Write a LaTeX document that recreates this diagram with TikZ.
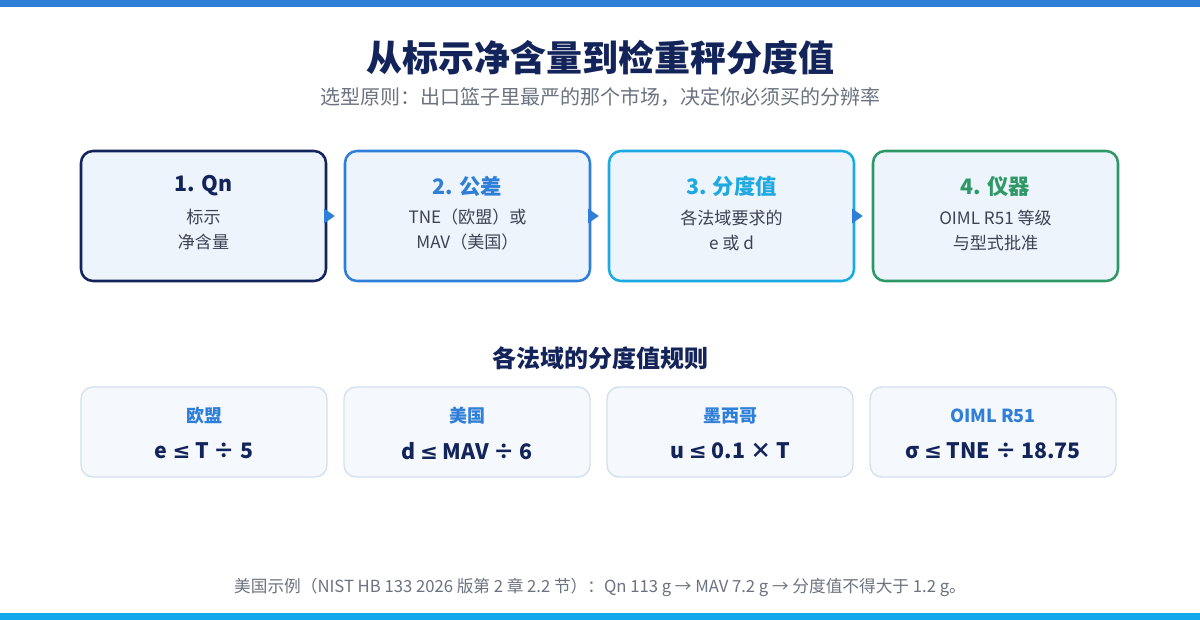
\documentclass[tikz,border=0pt]{standalone}
\usepackage{fontspec}
\setmainfont{Noto Sans CJK SC}
\newfontfamily\symsans{DejaVu Sans}
\newcommand{\leqs}{{\symsans ≤}}
\usetikzlibrary{arrows.meta,positioning}
\definecolor{navy}{HTML}{13245A}
\definecolor{primary}{HTML}{2F7ED8}
\definecolor{sky}{HTML}{1DA9E1}
\definecolor{leaf}{HTML}{2E9966}
\definecolor{paleblue}{HTML}{EEF4FC}
\definecolor{palerule}{HTML}{F5F9FD}
\definecolor{edge}{HTML}{D5E1EC}
\definecolor{muted}{HTML}{6B7280}
\definecolor{ink}{HTML}{3B4252}
\definecolor{barbottom}{HTML}{12A8EA}

\begin{document}
\begin{tikzpicture}[x=0.75pt,y=-0.75pt,
    stage/.style={draw,line width=1.9pt,fill=paleblue,rounded corners=9pt,
      minimum width=183.75pt,minimum height=97.5pt,inner sep=0pt},
    stagetitle/.style={font=\fontsize{16}{19}\selectfont\bfseries},
    stagebody/.style={font=\fontsize{12.8}{18.75}\selectfont,text=ink,align=center},
    rule/.style={draw=edge,line width=1.1pt,fill=palerule,rounded corners=9pt,
      minimum width=184.5pt,minimum height=67.5pt,inner sep=0pt},
    rulelabel/.style={font=\fontsize{13.5}{16}\selectfont\bfseries,text=primary},
    formula/.style={font=\fontsize{16}{19}\selectfont\bfseries,text=navy},
    flow/.style={-{Triangle[length=8pt,width=11pt]},primary,line width=0.8pt,shorten >=6.75pt}]
  \useasboundingbox (0,0) rectangle (1200,620);
  \fill[white] (0,0) rectangle (1200,620);
  \fill[primary] (0,0) rectangle (1200,7);
  \fill[barbottom] (0,613) rectangle (1200,620);

  % title
  \node[font=\fontsize{27}{32}\selectfont\bfseries,text=navy] (title) at (600,58) {从标示净含量到检重秤分度值};
  \node[font=\fontsize{15}{18}\selectfont,text=muted] (subtitle) at (600,97) {选型原则：出口篮子里最严的那个市场，决定你必须买的分辨率};

  % the four steps
  \node[stage,draw=navy] (q) at (203.5,216) {};
  \node[stage,draw=primary] (tol) at (467.5,216) {};
  \node[stage,draw=sky] (div) at (731.5,216) {};
  \node[stage,draw=leaf] (inst) at (995.5,216) {};
  \draw[flow] (q.east) -- (tol.west);
  \draw[flow] (tol.east) -- (div.west);
  \draw[flow] (div.east) -- (inst.west);

  \node[stagetitle,text=navy] (qtitle) at (203.5,186) {1. Qn};
  \node[stagebody] (qbody) at (203.5,230) {标示\\净含量};
  \node[stagetitle,text=primary] (toltitle) at (467.5,186) {2. 公差};
  \node[stagebody] (tolbody) at (467.5,230) {TNE（欧盟）或\\MAV（美国）};
  \node[stagetitle,text=sky] (divtitle) at (731.5,186) {3. 分度值};
  \node[stagebody] (divbody) at (731.5,230) {各法域要求的\\e 或 d};
  \node[stagetitle,text=leaf] (insttitle) at (995.5,186) {4. 仪器};
  \node[stagebody] (instbody) at (995.5,230) {OIML R51 等级\\与型式批准};

  % rules per jurisdiction
  \node[font=\fontsize{18}{21}\selectfont\bfseries,text=navy] (rulehead) at (600,358) {各法域的分度值规则};
  \node[rule] (eu) at (204,432) {};
  \node[rule] (us) at (467,432) {};
  \node[rule] (mx) at (730,432) {};
  \node[rule] (oiml) at (993,432) {};
  \node[rulelabel] (eulabel) at (204,416) {欧盟};
  \node[formula] (eurule) at (204,451) {e \leqs{} T ÷ 5};
  \node[rulelabel] (uslabel) at (467,416) {美国};
  \node[formula] (usrule) at (467,451) {d \leqs{} MAV ÷ 6};
  \node[rulelabel] (mxlabel) at (730,416) {墨西哥};
  \node[formula] (mxrule) at (730,451) {u \leqs{} 0.1 × T};
  \node[rulelabel] (oimllabel) at (993,416) {OIML R51};
  \node[formula] (oimlrule) at (993,451) {σ \leqs{} TNE ÷ 18.75};

  % footnote
  \node[font=\fontsize{12.5}{15}\selectfont,text=muted] (note) at (600,587) {美国示例（NIST HB 133 2026 版第 2 章 2.2 节）：Qn 113 g → MAV 7.2 g → 分度值不得大于 1.2 g。};
\end{tikzpicture}
\end{document}
